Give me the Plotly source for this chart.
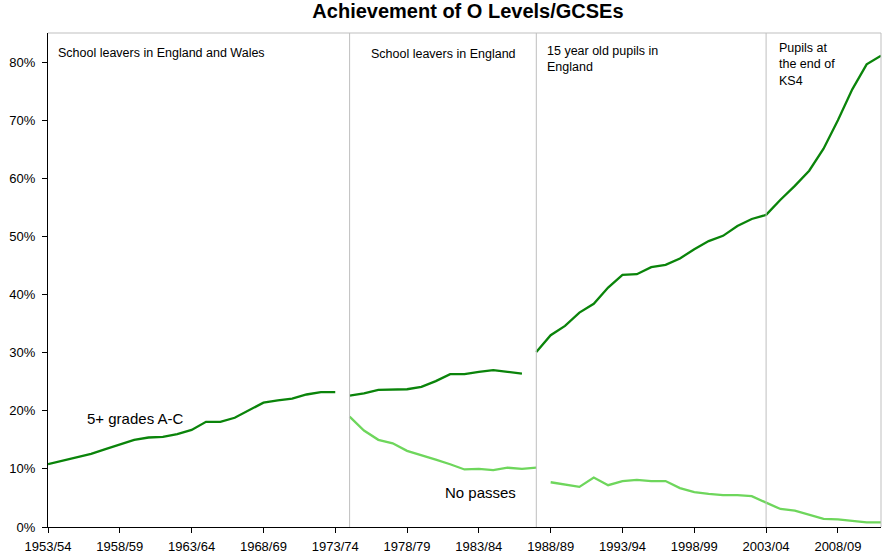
import plotly.graph_objects as go

# academic years 1953/54 .. 2011/12
years = [f"{y}/{str(y + 1)[-2:]}" for y in range(1953, 2012)]

# 5+ grades A-C (%)
grades_ac = [10.8, 11.4, 11.9, 12.6, 13.4, 14.2, 15.0, 15.4, 15.5, 16.0,
             16.7, 18.1, 18.1, 18.8, 20.1, 21.4, 21.8, 22.1, 22.8, 23.2,
             23.2,
             22.6, 23.0, 23.6, 23.7, 23.7, 24.1, 25.1, 26.3, 26.3, 26.7,
             27.0, 26.7, 26.4,
             30.1, 33.0, 34.6, 36.9, 38.4, 41.2, 43.4, 43.5, 44.7, 45.1,
             46.2, 47.8, 49.2, 50.1, 51.8, 53.0, 53.7, 56.3, 58.7, 61.3,
             65.1, 70.0, 75.3, 79.6, 81.1]

# no passes (%), starts 1974/75
no_passes = [None] * 21 + [
    19.0, 16.6, 15.0, 14.4, 13.1, 12.4, 11.6, 10.8, 9.9, 10.0,
    9.8, 10.2, 10.0, 10.2,
    7.7, 7.3, 6.9, 8.5, 7.2, 7.9, 8.1, 7.9, 7.9, 6.7,
    6.0, 5.7, 5.5, 5.5, 5.3, 4.2, 3.1, 2.8, 2.1, 1.4,
    1.3, 1.1, 0.8, 0.8]

# where each series breaks into a new, unconnected run
grades_breaks = [0, 21, 34, len(years)]
no_passes_breaks = [21, 35, len(years)]

# regime changes (index of first year in each new basis)
divider_idx = [21, 34, 50]
divider_labels = [
    (0, "School leavers in England and Wales", 0.022, 8),
    (21, "School leavers in England", 0.024, 19),
    (34, "15 year old pupils in<br>England", 0.019, 9),
    (50, "Pupils at<br>the end of<br>KS4", 0.013, 11),
]

FONT = 'Liberation Sans, Arial'

fig = go.Figure()

def add_runs(values, breaks, color):
    for a, b in zip(breaks[:-1], breaks[1:]):
        fig.add_trace(go.Scatter(
            x=list(range(a, b)), y=values[a:b], mode='lines',
            line=dict(color=color, width=2.3), showlegend=False,
            hoverinfo='skip'))

add_runs(grades_ac, grades_breaks, '#0a840a')
add_runs(no_passes, no_passes_breaks, '#6ed65c')

for i in divider_idx:
    fig.add_shape(type='line', x0=i, x1=i, y0=0, y1=1, xref='x', yref='paper',
                  line=dict(color='#bfbfbf', width=1))

for i, txt, dy, dx in divider_labels:
    fig.add_annotation(x=i, y=1 - dy, xref='x', yref='paper', text=txt,
                       showarrow=False, xanchor='left', yanchor='top',
                       xshift=dx, align='left',
                       font=dict(family=FONT, size=12.5, color='black'))

fig.add_annotation(x=2.6, y=18.7, text="5+ grades A-C", showarrow=False,
                   xanchor='left', font=dict(family=FONT, size=15,
                                             color='black'))
fig.add_annotation(x=27.5, y=5.9, text="No passes", showarrow=False,
                   xanchor='left', font=dict(family=FONT, size=15,
                                             color='black'))

fig.update_xaxes(
    range=[0, len(years) - 1],
    tickvals=list(range(0, len(years), 5)),
    ticktext=years[::5],
    ticks='outside', ticklen=5, tickcolor='black', ticklabelstandoff=2,
    showline=True, linecolor='black', linewidth=1, mirror=False,
    showgrid=False, zeroline=False, automargin=False,
    tickfont=dict(family=FONT, size=13, color='black'))
fig.update_yaxes(
    range=[0, 85], dtick=10, ticksuffix='%',
    ticks='outside', ticklen=5, tickcolor='black', ticklabelstandoff=4,
    showline=True, linecolor='black', linewidth=1,
    showgrid=False, zeroline=False, automargin=False,
    tickfont=dict(family=FONT, size=13, color='black'))

# grey frame on top and right
fig.add_shape(type='line', x0=0, x1=1, y0=1, y1=1, xref='paper', yref='paper',
              line=dict(color='#bfbfbf', width=1))
fig.add_shape(type='line', x0=1, x1=1, y0=0, y1=1, xref='paper', yref='paper',
              line=dict(color='#bfbfbf', width=1))

fig.update_layout(
    width=888, height=557,
    margin=dict(l=48, r=7, t=33, b=30),
    plot_bgcolor='white', paper_bgcolor='white',
    title=dict(text="<b>Achievement of O Levels/GCSEs</b>", x=0.527,
               y=0.993, xanchor='center', yanchor='top',
               font=dict(family=FONT, size=20, color='black')),
)

fig.write_html("out.html", config={'displayModeBar': False},
               post_script="document.body.style.margin='0';")
